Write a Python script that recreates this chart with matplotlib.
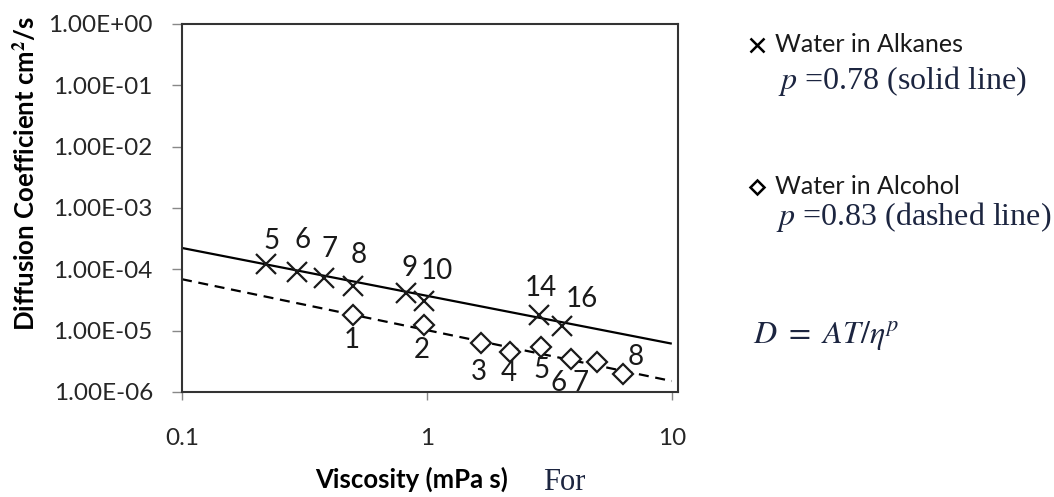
import matplotlib
matplotlib.use("Agg")
import matplotlib.pyplot as plt
from matplotlib.lines import Line2D
import numpy as np

plt.rcParams['font.family'] = ['Lato', 'DejaVu Sans']
plt.rcParams['mathtext.fontset'] = 'stix'

# Water in alkanes (numbered by carbon count)
alk_visc = [0.221, 0.294, 0.381, 0.499, 0.818, 0.977, 2.87, 3.56]
alk_D = [1.24e-4, 9.0e-5, 7.3e-5, 5.4e-5, 4.1e-5, 3.1e-5, 1.81e-5, 1.20e-5]
alk_labels = ['5', '6', '7', '8', '9', '10', '14', '16']

# Water in alcohols
alc_visc = [0.501, 0.969, 1.67, 2.19, 2.93, 3.87, 4.94, 6.31]
alc_D = [1.79e-5, 1.23e-5, 6.3e-6, 4.5e-6, 5.5e-6, 3.4e-6, 3.1e-6, 2.0e-6]
alc_labels = ['1', '2', '3', '4', '5', '6', '7', '8']

# Power-law fits D = A T / eta^p
alk_p, alk_A = 0.78, 3.7e-5
alc_p, alc_A = 0.83, 1.02e-5
fit_range = [0.1, 10]

yticks = [1e0, 1e-1, 1e-2, 1e-3, 1e-4, 1e-5, 1e-6]
ytick_labels = ['1.00E+00', '1.00E-01', '1.00E-02', '1.00E-03',
                '1.00E-04', '1.00E-05', '1.00E-06']
xticks = [0.1, 1, 10]
xtick_labels = ['0.1', '1', '10']

# label offsets (points) for the numbered markers
alk_offsets = [(4, 16), (4, 23), (4, 21), (4, 22), (3, 18), (9, 21), (1, 19), (14, 19)]
alc_offsets = [(-1, -18), (-1, -18), (-2, -21), (-1, -15), (0, -17), (-9, -17), (-12, -15), (9, 12)]

W, H = 1054, 497
fig = plt.figure(figsize=(W / 100, H / 100), dpi=100)
ax = fig.add_axes([182 / W, 1 - 392 / H, (678 - 182) / W, (392 - 24) / H])
ax.set_xscale('log')
ax.set_yscale('log')
ax.set_xlim(0.1, 10.6)
ax.set_ylim(1e-6, 1e0)

xf = np.geomspace(fit_range[0], fit_range[1], 50)
ax.plot(xf, alk_A * xf ** (-alk_p), color='black', lw=1.6, solid_capstyle='butt')
ax.plot(xf, alc_A * xf ** (-alc_p), color='black', lw=1.6, dashes=(4.5, 3))

ax.plot(alk_visc, alk_D, linestyle='none', marker='x', ms=14, mew=1.6, color='#1a1a1a')
ax.plot(alc_visc, alc_D, linestyle='none', marker='D', ms=10.5, mew=1.6,
        mfc='white', mec='#1a1a1a')

for x, y, t, off in zip(alk_visc, alk_D, alk_labels, alk_offsets):
    ax.annotate(t, (x, y), xytext=off, textcoords='offset points', ha='center',
                va='center', fontsize=20, color='#1a1a1a', annotation_clip=False,
                clip_on=True)
for x, y, t, off in zip(alc_visc, alc_D, alc_labels, alc_offsets):
    ax.annotate(t, (x, y), xytext=off, textcoords='offset points', ha='center',
                va='center', fontsize=20, color='#1a1a1a', annotation_clip=False,
                clip_on=True)

ax.set_xticks(xticks)
ax.set_xticklabels(xtick_labels)
ax.set_yticks(yticks)
ax.set_yticklabels(ytick_labels)
ax.minorticks_off()
ax.tick_params(axis='y', direction='out', length=7, width=1, color='#888888',
               labelsize=17.5, labelcolor='#262626', pad=14)
ax.tick_params(axis='x', direction='out', length=6, width=1, color='#888888',
               labelsize=17.5, labelcolor='#262626', pad=20)
for s in ax.spines.values():
    s.set_color('#333333')
    s.set_linewidth(1.5)

fig.text(25 / W, 1 - 173 / H, 'Diffusion Coefficient cm$^\\mathbf{2}$/s', rotation=90,
         ha='center', va='center', fontsize=18.5, fontweight='bold', color='black')
fig.text(412 / W, 1 - 479 / H, 'Viscosity (mPa s)', ha='center', va='center',
         fontsize=18.5, fontweight='bold', color='black')
fig.text(543 / W, 1 - 483 / H, 'For', ha='left', va='center', fontsize=22,
         family='Liberation Serif', color='#1c2540')

# side legend
serif_col = '#1c2540'
fig.add_artist(Line2D([757 / W], [1 - 45 / H], marker='x', ms=10, mew=1.8,
                      color='black', transform=fig.transFigure))
fig.text(775 / W, 1 - 45 / H, 'Water in Alkanes', ha='left', va='center',
         fontsize=18, color='#1a1a1a')
fig.text(778 / W, 1 - 81 / H, '$p$ =0.78 (solid line)', ha='left', va='center',
         fontsize=23, family='Liberation Serif', color=serif_col)

fig.add_artist(Line2D([757 / W], [1 - 187 / H], marker='D', ms=7, mew=1.8,
                      mfc='white', mec='black', transform=fig.transFigure))
fig.text(775 / W, 1 - 187 / H, 'Water in Alcohol', ha='left', va='center',
         fontsize=18, color='#1a1a1a')
fig.text(776 / W, 1 - 217 / H, '$p$ =0.83 (dashed line)', ha='left', va='center',
         fontsize=23, family='Liberation Serif', color=serif_col)

fig.text(753 / W, 1 - 335 / H, '$D\\ =\\ AT/\\eta^p$', ha='left', va='center',
         fontsize=23, color=serif_col)

fig.savefig('out.png', dpi=100)
